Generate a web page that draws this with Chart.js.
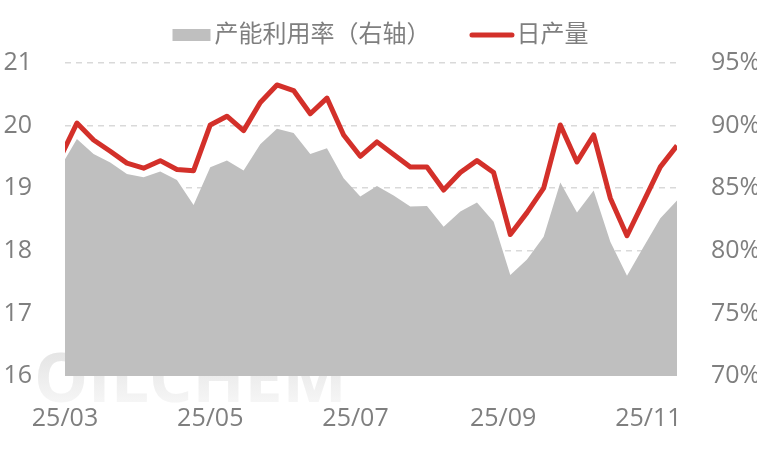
<!DOCTYPE html>
<html>
<head>
<meta charset="utf-8">
<script src="https://cdn.jsdelivr.net/npm/chart.js@4.4.1/dist/chart.umd.min.js"></script>
<style>
  html, body { margin: 0; padding: 0; background: #fff; }
  #wrap { width: 757px; height: 450px; position: relative; }
</style>
</head>
<body>
<div id="wrap"><canvas id="chart"></canvas></div>
<script>
// weekly points (Thursdays), first one sits just left of the axis start
const weeks = [
  "2025-02-27", "2025-03-06", "2025-03-13", "2025-03-20", "2025-03-27",
  "2025-04-03", "2025-04-10", "2025-04-17", "2025-04-24",
  "2025-05-01", "2025-05-08", "2025-05-15", "2025-05-22", "2025-05-29",
  "2025-06-05", "2025-06-12", "2025-06-19", "2025-06-26",
  "2025-07-03", "2025-07-10", "2025-07-17", "2025-07-24", "2025-07-31",
  "2025-08-07", "2025-08-14", "2025-08-21", "2025-08-28",
  "2025-09-04", "2025-09-11", "2025-09-18", "2025-09-25",
  "2025-10-02", "2025-10-09", "2025-10-16", "2025-10-23", "2025-10-30",
  "2025-11-06", "2025-11-13"
];

// 日产量 (left axis)
const dailyOutput = [
  19.49, 20.04, 19.77, 19.59, 19.40, 19.32, 19.44, 19.30, 19.28,
  20.01, 20.15, 19.92, 20.37, 20.65, 20.56, 20.19, 20.44, 19.85,
  19.51, 19.74, 19.54, 19.34, 19.34, 18.97, 19.25, 19.44, 19.25,
  18.26, 18.61, 19.00, 20.01, 19.42, 19.85, 18.84, 18.24, 18.79,
  19.34, 19.68
];

// 产能利用率 % (right axis)
const utilization = [
  86.67, 88.92, 87.74, 87.05, 86.14, 85.88, 86.33, 85.66, 83.66,
  86.68, 87.21, 86.41, 88.52, 89.74, 89.40, 87.74, 88.20, 85.80,
  84.33, 85.18, 84.41, 83.53, 83.58, 81.93, 83.13, 83.85, 82.33,
  78.06, 79.31, 81.13, 85.45, 83.05, 84.81, 80.73, 78.01, 80.33,
  82.60, 84.01
];

const tickDates = ["2025-03-01", "2025-05-01", "2025-07-01", "2025-09-01", "2025-11-01"];
const tickLabels = ["25/03", "25/05", "25/07", "25/09", "25/11"];

const AXIS_START = "2025-03-01";
const AXIS_END = "2025-11-13";

const RED = "#D3302A";
const GREY = "#BFBFBF";
const TEXT = "#7F7F7F";
const FONT = '"Open Sans", "Noto Sans CJK SC", sans-serif';

// days since the axis start date
function dayOf(s) {
  const [y, m, d] = s.split("-").map(Number);
  const [y0, m0, d0] = AXIS_START.split("-").map(Number);
  return (Date.UTC(y, m - 1, d) - Date.UTC(y0, m0 - 1, d0)) / 864e5;
}

const areaPoints = weeks.map((w, i) => ({ x: dayOf(w), y: utilization[i] }));
const linePoints = weeks.map((w, i) => ({ x: dayOf(w), y: dailyOutput[i] }));

// faint logo watermark behind the plot
const watermark = {
  id: "watermark",
  beforeDraw(chart) {
    const ctx = chart.ctx;
    ctx.save();
    ctx.font = 'bold 68px "Open Sans", sans-serif';
    ctx.textBaseline = "alphabetic";
    const g = ctx.createLinearGradient(0, 350, 0, 404);
    g.addColorStop(0, "#E4E4E4");
    g.addColorStop(1, "#F6F6F6");
    ctx.fillStyle = g;
    ctx.fillText("OILCHEM", 34, 402);
    ctx.restore();
  }
};

// legend drawn above the plot, box for the area and a stroke for the line
const topLegend = {
  id: "topLegend",
  afterDraw(chart) {
    const ctx = chart.ctx;
    const [area, line] = chart.data.datasets;
    ctx.save();
    ctx.font = "24px " + FONT;
    ctx.textBaseline = "middle";
    const w1 = ctx.measureText(area.label).width;
    const w2 = ctx.measureText(line.label).width;
    const total = 38 + 4 + w1 + 39 + 45 + 2 + w2;
    let x = (chart.width - total) / 2 + 2;
    const y = 35;

    ctx.fillStyle = area.backgroundColor;
    ctx.fillRect(x, y - 6, 38, 12);
    x += 42;
    ctx.fillStyle = TEXT;
    ctx.fillText(area.label, x, y);
    x += w1 + 39;

    ctx.strokeStyle = line.borderColor;
    ctx.lineWidth = 5;
    ctx.lineCap = "round";
    ctx.beginPath();
    ctx.moveTo(x + 2.5, y);
    ctx.lineTo(x + 42.5, y);
    ctx.stroke();
    x += 47;
    ctx.fillText(line.label, x, y);
    ctx.restore();
  }
};

new Chart(document.getElementById("chart"), {
  type: "line",
  data: {
    datasets: [
      {
        label: "产能利用率（右轴）",
        data: areaPoints,
        yAxisID: "y2",
        fill: "start",
        backgroundColor: GREY,
        borderWidth: 0,
        pointRadius: 0,
        tension: 0,
        clip: 0,
        order: 2
      },
      {
        label: "日产量",
        data: linePoints,
        yAxisID: "y",
        fill: false,
        borderColor: RED,
        borderWidth: 5,
        borderJoinStyle: "round",
        pointRadius: 0,
        tension: 0,
        clip: 0,
        order: 1
      }
    ]
  },
  options: {
    responsive: true,
    maintainAspectRatio: false,
    animation: false,
    events: [],
    layout: { padding: { top: 63, left: 0, right: 0, bottom: 0 } },
    plugins: {
      legend: { display: false },
      tooltip: { enabled: false }
    },
    scales: {
      x: {
        type: "linear",
        min: dayOf(AXIS_START),
        max: dayOf(AXIS_END),
        grid: { display: false },
        border: { display: false },
        afterBuildTicks: (scale) => {
          scale.ticks = tickDates.map(d => ({ value: dayOf(d) }));
        },
        afterFit: (scale) => { scale.height = 74; },
        ticks: {
          autoSkip: false,
          maxRotation: 0,
          padding: 20,
          color: TEXT,
          font: { family: FONT, size: 25 },
          callback: (value, index) => tickLabels[index]
        }
      },
      y: {
        position: "left",
        min: 16,
        max: 21,
        afterFit: (scale) => { scale.width = 65; },
        grid: {
          drawTicks: false,
          lineWidth: 1.5,
          color: (c) => (c.tick && c.tick.value === 16 ? "rgba(0,0,0,0)" : "#D9D9D9")
        },
        border: { display: false, dash: [6, 5] },
        ticks: {
          stepSize: 1,
          padding: 33,
          color: TEXT,
          font: { family: FONT, size: 25 }
        }
      },
      y2: {
        position: "right",
        min: 70,
        max: 95,
        afterFit: (scale) => { scale.width = 80; },
        grid: { display: false },
        border: { display: false },
        ticks: {
          stepSize: 5,
          padding: 26,
          color: TEXT,
          font: { family: FONT, size: 25 },
          callback: (v) => v + "%"
        }
      }
    }
  },
  plugins: [watermark, topLegend]
});
</script>
</body>
</html>
